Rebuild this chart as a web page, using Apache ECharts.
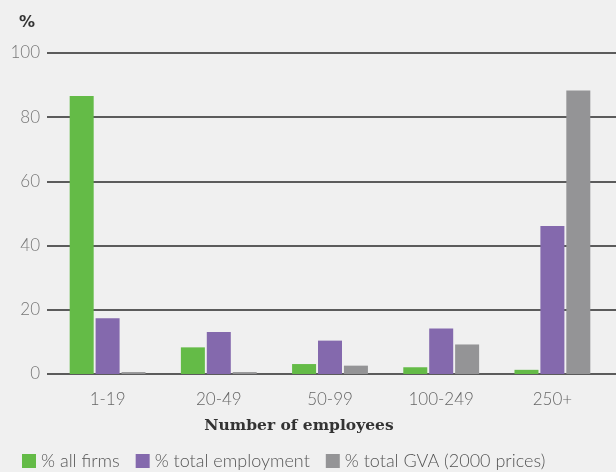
<!DOCTYPE html>
<html>
<head>
<meta charset="utf-8">
<script src="https://cdn.jsdelivr.net/npm/echarts@6/dist/echarts.min.js"></script>
<style>
  html, body { margin: 0; padding: 0; background: #f0f0f0; }
  #main { width: 616px; height: 472px; }
</style>
</head>
<body>
<div id="main"></div>
<script>
var categories = ['1-19', '20-49', '50-99', '100-249', '250+'];
var allFirms = [86.6, 8.3, 3.1, 2.1, 1.3];
var totalEmployment = [17.4, 13.1, 10.4, 14.2, 46.1];
var totalGVA = [0.6, 0.6, 2.6, 9.2, 88.3];
var yTicks = [0, 20, 40, 60, 80, 100];

var lightFont = 'Lato';
var chart = echarts.init(document.getElementById('main'), null, { renderer: 'canvas' });

var option = {
  backgroundColor: '#f0f0f0',
  animation: false,
  color: ['#64bb47', '#8469ad', '#949496'],
  title: {
    text: '%',
    left: 14,
    top: 10,
    textStyle: { fontSize: 16, fontWeight: 'bold', color: '#333', fontFamily: 'DejaVu Sans' }
  },
  legend: {
    data: [
      '% all firms',
      { name: '% total employment', textStyle: { padding: [0, 16, 0, 0] } },
      '% total GVA (2000 prices)'
    ],
    left: 17,
    bottom: -3,
    itemWidth: 14,
    itemHeight: 14,
    itemGap: 16,
    icon: 'rect',
    textStyle: { fontSize: 18, color: '#555', fontFamily: lightFont, fontWeight: 300 }
  },
  grid: [
    // gridlines + y labels
    { left: 47, right: 0, top: 53, bottom: 98 },
    // bars
    { left: 52, right: 8, top: 53, bottom: 98 }
  ],
  xAxis: [
    { gridIndex: 0, type: 'value', show: false, min: 0, max: 1 },
    {
      gridIndex: 1,
      type: 'category',
      data: categories,
      axisLine: { show: false },
      axisTick: { show: false },
      axisLabel: { margin: 17, fontSize: 17, color: '#666', fontFamily: lightFont, fontWeight: 300 },
      name: 'Number of employees',
      nameLocation: 'middle',
      nameGap: 44,
      nameTextStyle: { fontSize: 15.5, fontWeight: 'bold', color: '#333', fontFamily: 'DejaVu Serif',
        padding: [0, 62, 0, 0] }
    }
  ],
  yAxis: [
    {
      gridIndex: 0,
      type: 'value',
      min: 0,
      max: 100,
      interval: 20,
      axisLine: { show: false },
      axisTick: { show: false },
      axisLabel: { margin: 7, fontSize: 17, color: '#777', fontFamily: lightFont, fontWeight: 300,
        formatter: function (v) { return yTicks.indexOf(v) >= 0 ? String(v) : ''; } },
      splitLine: { lineStyle: { color: '#2a2a2a', width: 1.5 } }
    },
    {
      gridIndex: 1,
      type: 'value',
      min: 0,
      max: 100,
      interval: 20,
      show: false,
      splitLine: { show: false }
    }
  ],
  series: [
    {
      name: '% all firms', type: 'bar', xAxisIndex: 1, yAxisIndex: 1,
      data: allFirms, barWidth: 24, barGap: '8%', barCategoryGap: '31%'
    },
    {
      name: '% total employment', type: 'bar', xAxisIndex: 1, yAxisIndex: 1,
      data: totalEmployment, barWidth: 24, barGap: '8%'
    },
    {
      name: '% total GVA (2000 prices)', type: 'bar', xAxisIndex: 1, yAxisIndex: 1,
      data: totalGVA, barWidth: 24, barGap: '8%'
    }
  ]
};
chart.setOption(option);
</script>
</body>
</html>
